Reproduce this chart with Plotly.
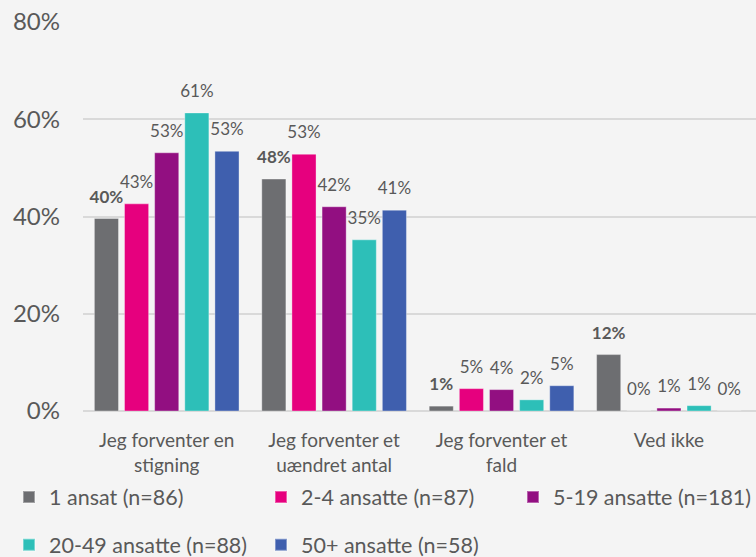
import plotly.graph_objects as go

categories = ["Jeg forventer en<br>stigning", "Jeg forventer et<br>uændret antal", "Jeg forventer et<br>fald", "Ved ikke"]
series_names = ["1 ansat (n=86)", "2-4 ansatte (n=87)", "5-19 ansatte (n=181)", "20-49 ansatte (n=88)", "50+ ansatte (n=58)"]
ansat_1 = [39.6, 47.7, 1.0, 11.6]
ansatte_2_4 = [42.6, 52.8, 4.6, 0.0]
ansatte_5_19 = [53.1, 42.0, 4.4, 0.6]
ansatte_20_49 = [61.3, 35.2, 2.3, 1.1]
ansatte_50 = [53.4, 41.3, 5.2, 0.0]
y_ticks = [0, 20, 40, 60, 80]

series_values = [ansat_1, ansatte_2_4, ansatte_5_19, ansatte_20_49, ansatte_50]
colors = ["#6d6e71", "#e6007e", "#920f81", "#2dbfb8", "#3f5fae"]

FONT = "Lato, 'Open Sans', sans-serif"
fig = go.Figure()
for i, (name, vals, col) in enumerate(zip(series_names, series_values, colors)):
    fig.add_trace(go.Bar(
        x=categories, y=vals, name=name, offsetgroup=str(i),
        marker=dict(color=col, line=dict(color="rgba(255,255,255,0.35)", width=1)),
        legend="legend" if i < 3 else "legend2",
        hoverinfo="skip",
    ))
for i, (name, vals, col) in enumerate(zip(series_names, series_values, colors)):
    if i == 0:
        texts = [f"<b>{round(v):d}%</b>" for v in vals]
    else:
        texts = [f"{round(v):d}%" for v in vals]
    fig.add_trace(go.Scatter(
        x=categories, y=vals, mode="markers+text", offsetgroup=str(i),
        marker=dict(size=17, opacity=0, color=col),
        text=texts, textposition="top center",
        textfont=dict(size=17, color="#595959", family=FONT),
        showlegend=False, cliponaxis=False, hoverinfo="skip",
    ))

legend_style = dict(orientation="h", xanchor="left", yanchor="middle",
                    entrywidth=207, entrywidthmode="pixels",
                    font=dict(size=21.5, color="#595959", family=FONT),
                    itemsizing="constant", traceorder="normal",
                    bgcolor="rgba(0,0,0,0)")
fig.update_layout(
    width=756, height=557,
    barmode="group", bargap=0.1, bargroupgap=0.2,
    scattermode="group", scattergap=0.1,
    plot_bgcolor="#f4f4f4", paper_bgcolor="#f4f4f4",
    margin=dict(l=83, r=0, t=22, b=146, autoexpand=False),
    font=dict(family=FONT, color="#595959"),
    showlegend=True,
    legend=dict(x=-0.11, y=-0.221, **legend_style),
    legend2=dict(x=-0.11, y=-0.344, **legend_style),
    xaxis=dict(tickfont=dict(size=19, color="#595959"), showline=False, showgrid=False,
               ticks="", range=[-0.5, 3.52], ticklabelstandoff=16, automargin=False),
    yaxis=dict(range=[0, 80], tickvals=y_ticks, ticktext=[f"{t}%" for t in y_ticks],
               tickfont=dict(size=24, color="#595959"), showgrid=True,
               gridcolor="#d9d9d9", gridwidth=2, zeroline=True, zerolinecolor="#d9d9d9",
               zerolinewidth=2, ticklabelstandoff=22, showline=False, automargin=False),
)
fig.write_html("out.html", config={"displayModeBar": False},
               post_script="document.body.style.margin='0';")
